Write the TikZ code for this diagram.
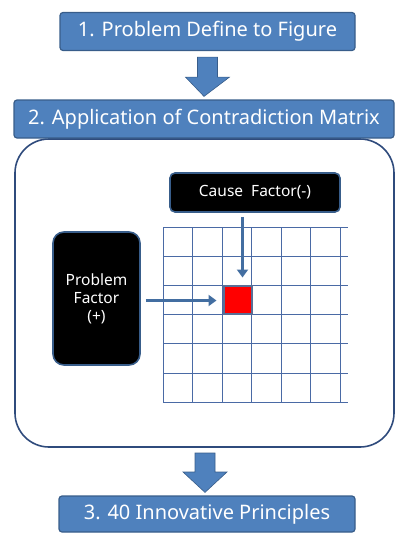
\documentclass[tikz,border=0pt]{standalone}
\usepackage{fontspec}
\setmainfont{Noto Sans}
\usepackage{tikz}
\usetikzlibrary{positioning,arrows.meta,calc}

\definecolor{stepblue}{HTML}{4F81BD}
\definecolor{stepline}{HTML}{385D8A}
\definecolor{gridblue}{HTML}{4A6AA5}
\definecolor{frameblue}{HTML}{2F4B7C}

\begin{document}
\begin{tikzpicture}[>=Latex, x=1pt, y=-1pt,
  stepbox/.style={draw=stepline,fill=stepblue,line width=1.2pt,rounded corners=3pt,
    text=white,font=\fontsize{20}{22}\selectfont,inner sep=0pt},
  factor/.style={draw=stepline,fill=black,line width=1.6pt,text=white,
    font=\fontsize{15.5}{18}\selectfont,align=center,inner sep=0pt},
  blockarr/.style={fill=stepblue,draw=stepline,line width=0.6pt},
  inarr/.style={draw=stepblue!85!black,line width=3.5pt,-{Triangle[width=11pt,length=8pt]}}]
\useasboundingbox (0,0) rectangle (396,533);
% frame around the matrix step
\draw[frameblue,line width=1.6pt,rounded corners=34pt] (15,139) rectangle (394,447);
\coordinate (fb) at (205,447);
% steps
\node[stepbox,minimum width=295pt,minimum height=38pt] (b1) at (207.5,31.5) {1. Problem Define to Figure};
\node[stepbox,minimum width=380pt,minimum height=38pt] (b2) at (204,119) {2. Application of Contradiction Matrix};
\node[stepbox,minimum width=296pt,minimum height=36pt] (b3) at (207,514) {3. 40 Innovative Principles};
% block arrows between steps
\fill[blockarr] ($(b1.south)+(-10,6)$) -- ++(20,0) -- ++(0,20) -- ++(12,0)
  -- ($(b2.north)+(0,-3)$) -- ($(b1.south)+(-22,26)$) -- ++(12,0) -- cycle;
\fill[blockarr] ($(fb)+(-10,6)$) -- ++(20,0) -- ++(0,19) -- ++(12,0)
  -- ($(b3.north)+(-2,-3)$) -- ($(fb)+(-22,25)$) -- ++(12,0) -- cycle;
% matrix grid
\foreach \i in {0,...,6}{
  \draw[gridblue,line width=0.7pt] (163+\i*29.5,227) -- (163+\i*29.5,402);
  \draw[gridblue,line width=0.7pt] (163,227+\i*29.2) -- (348,227+\i*29.2);}
\node[draw=frameblue!80,fill=red,line width=2pt,minimum size=28pt,inner sep=0pt] (cell) at (237.5,299.5) {};
% factors
\node[factor,rounded corners=5pt,minimum width=170pt,minimum height=39pt] (cause) at (255,192.5) {Cause~~Factor(-)};
\node[factor,rounded corners=11pt,minimum width=87pt,minimum height=133pt] (prob) at (96.5,298.5) {Problem\\Factor\\(+)};
\draw[inarr] ([xshift=5pt,yshift=-4pt]cell.north |- cause.south) -- ([xshift=5pt,yshift=7pt]cell.north);
\draw[inarr] ([xshift=5pt,yshift=-2pt]prob.east) -- ([xshift=-6pt,yshift=-2pt]cell.west |- prob.east);
\end{tikzpicture}
\end{document}
